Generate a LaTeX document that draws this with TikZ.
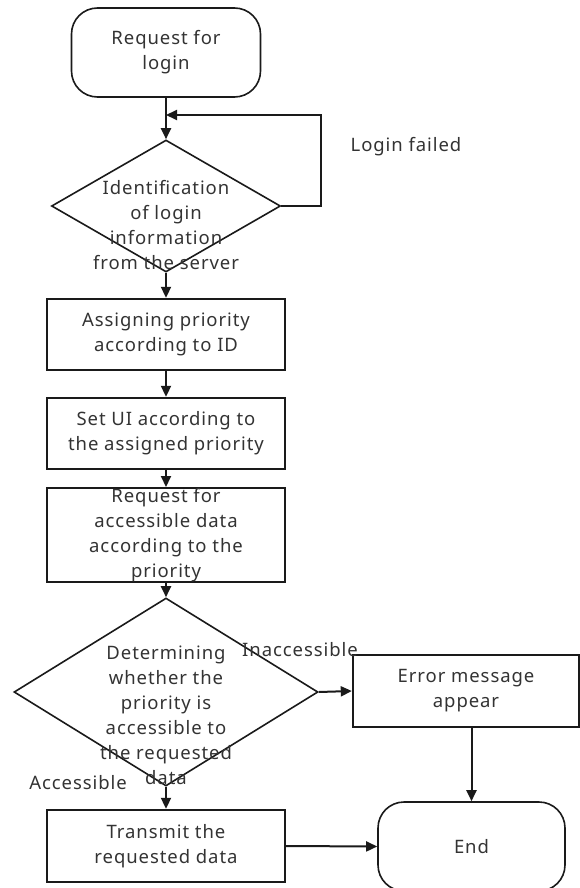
\documentclass[tikz,border=0pt]{standalone}
\usepackage{fontspec}
\setmainfont{Noto Sans}[LetterSpace=5]
\usetikzlibrary{shapes.geometric,arrows.meta}
\definecolor{ln}{HTML}{1A1A1A}
\definecolor{txt}{HTML}{333333}
\begin{document}
\begin{tikzpicture}[x=1pt,y=-1pt,
  every node/.style={font=\fontsize{18.5}{25}\selectfont, text=txt, align=center},
  flowbox/.style={draw=ln, line width=2.4pt, minimum width=238pt, minimum height=71pt, inner sep=0pt},
  terminal/.style={draw=ln, line width=1.6pt, rounded corners=26pt, minimum width=189pt, minimum height=89pt, inner sep=0pt},
  decision/.style={draw=ln, line width=1.6pt, diamond, inner sep=0pt},
  flow/.style={draw=ln, line width=2pt, -{Triangle[length=11pt,width=10pt]}},
  tag/.style={inner sep=0pt}
  ]
  \clip (0,0) rectangle (580,888);

  % main column
  \node[terminal] (start) at (166,52.5) {Request for\\login};
  \node[decision, minimum width=229pt, minimum height=132pt] (d1) at (166,206) {};
  \node[tag] (d1t) at (166,225.5) {Identification\\of login\\information\\from the server};
  \node[flowbox] (b1) at (166,334.5) {Assigning priority\\according to ID};
  \node[flowbox] (b2) at (166,433.5) {Set UI according to\\the assigned priority};
  \node[flowbox, minimum height=72pt] (b3) at (166,535) {Request for\\accessible data\\according to the\\priority};
  \node[decision, minimum width=304pt, minimum height=188pt] (d2) at (166,692) {};
  \node[tag] (d2t) at (166,715) {Determining\\whether the\\priority is\\accessible to\\the requested\\data};
  \node[flowbox, minimum height=72pt] (b4) at (166,846) {Transmit the\\requested data};

  % right column
  \node[flowbox, minimum width=226pt, minimum height=72pt] (err) at (466,691) {Error message\\appear};
  \node[terminal, minimum width=187pt] (end) at (471.5,846.5) {End};

  % branch labels
  \node[tag] (lf) at (406,147) {Login failed};
  \node[tag] (inacc) at (300,650) {Inaccessible};
  \node[tag] (acc) at (78,783) {Accessible};

  % connectors
  \coordinate (loopin) at (166,115);
  \draw[flow] (start.south) -- (d1.north);
  \draw[flow] (d1.east) -- ++(40,0) |- (loopin);
  \draw[flow] (d1.south) -- (b1.north);
  \draw[flow] (b1.south) -- (b2.north);
  \draw[flow] (b2.south) -- (b3.north);
  \draw[flow] (b3.south) -- (d2.north);
  \draw[flow] (d2.east) -- (err.west);
  \draw[flow] (d2.south) -- (b4.north);
  \draw[flow] (end.north |- err.south) -- (end.north);
  \draw[flow] (b4.east) -- (end.west);
\end{tikzpicture}
\end{document}
